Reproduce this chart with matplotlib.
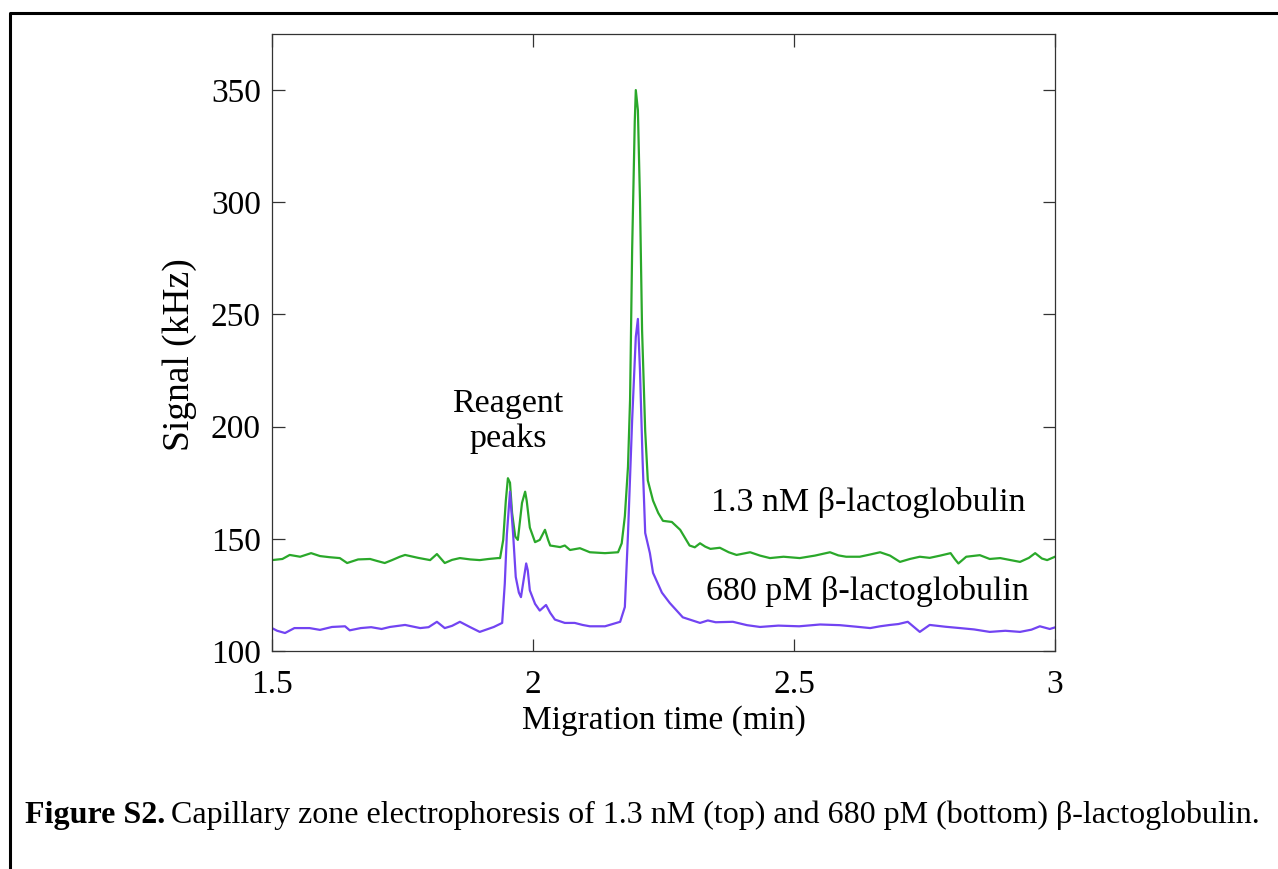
import matplotlib.pyplot as plt
from matplotlib.lines import Line2D

# migration time (min) and signal (kHz)
t_top = [1.500, 1.520, 1.534, 1.554, 1.575, 1.592, 1.610, 1.630, 1.644, 1.665, 1.688,
         1.700, 1.716, 1.730, 1.745, 1.755, 1.780, 1.803, 1.816, 1.831, 1.845, 1.860,
         1.880, 1.898, 1.915, 1.933, 1.937, 1.943, 1.948, 1.952, 1.956, 1.960, 1.966,
         1.971, 1.979, 1.985, 1.988, 1.994, 2.004, 2.013, 2.023, 2.029, 2.033, 2.052,
         2.061, 2.071, 2.090, 2.109, 2.138, 2.163, 2.170, 2.176, 2.182, 2.186, 2.190,
         2.195, 2.197, 2.201, 2.205, 2.209, 2.215, 2.220, 2.230, 2.240, 2.249, 2.266,
         2.282, 2.300, 2.310, 2.320, 2.330, 2.340, 2.358, 2.375, 2.390, 2.416, 2.435,
         2.454, 2.480, 2.511, 2.540, 2.569, 2.585, 2.600, 2.626, 2.646, 2.665, 2.684,
         2.703, 2.722, 2.741, 2.760, 2.780, 2.800, 2.808, 2.815, 2.830, 2.856, 2.875,
         2.895, 2.915, 2.933, 2.950, 2.962, 2.975, 2.985, 3.000]
sig_top = [140.5, 141.0, 142.8, 142.0, 143.6, 142.3, 141.8, 141.4, 139.2, 140.8, 141.0,
           140.2, 139.2, 140.5, 142.0, 142.8, 141.5, 140.5, 143.2, 139.2, 140.6, 141.4,
           140.8, 140.5, 141.0, 141.4, 141.4, 149.5, 167.0, 177.0, 175.0, 161.5, 151.0,
           149.5, 166.0, 171.0, 167.0, 155.0, 148.5, 149.5, 154.0, 149.5, 147.0, 146.3,
           147.0, 145.0, 145.8, 144.0, 143.6, 144.0, 148.0, 160.0, 182.0, 212.0, 279.0,
           336.0, 350.0, 341.0, 301.0, 243.0, 198.0, 176.0, 167.0, 161.5, 158.0, 157.5,
           154.0, 147.0, 146.2, 148.0, 146.5, 145.5, 146.0, 144.0, 142.8, 144.0, 142.5,
           141.4, 142.0, 141.4, 142.5, 144.0, 142.6, 142.0, 142.0, 143.0, 144.0, 142.5,
           139.7, 141.0, 142.0, 141.5, 142.5, 143.6, 141.0, 139.0, 142.0, 142.7, 141.0,
           141.4, 140.5, 139.7, 141.5, 143.6, 141.2, 140.5, 142.0]

t_bot = [1.500, 1.510, 1.525, 1.543, 1.572, 1.592, 1.615, 1.640, 1.649, 1.670, 1.690,
         1.710, 1.726, 1.755, 1.784, 1.800, 1.816, 1.831, 1.845, 1.860, 1.879, 1.898,
         1.925, 1.941, 1.946, 1.950, 1.956, 1.962, 1.967, 1.973, 1.977, 1.983, 1.987,
         1.990, 1.994, 2.004, 2.013, 2.025, 2.033, 2.042, 2.061, 2.080, 2.095, 2.109,
         2.138, 2.167, 2.176, 2.182, 2.190, 2.197, 2.201, 2.205, 2.210, 2.215, 2.224,
         2.230, 2.247, 2.262, 2.287, 2.320, 2.335, 2.350, 2.383, 2.410, 2.435, 2.470,
         2.510, 2.550, 2.588, 2.620, 2.646, 2.665, 2.684, 2.700, 2.718, 2.741, 2.760,
         2.790, 2.818, 2.845, 2.875, 2.905, 2.933, 2.955, 2.971, 2.990, 3.000]
sig_bot = [110.2, 109.0, 108.0, 110.2, 110.2, 109.4, 110.7, 111.0, 109.2, 110.2, 110.6,
           109.8, 110.7, 111.6, 110.2, 110.6, 113.0, 110.2, 111.2, 113.0, 110.7, 108.5,
           110.7, 112.5, 130.0, 152.0, 171.0, 152.0, 133.0, 126.0, 124.0, 133.0, 139.0,
           136.0, 127.0, 121.0, 118.0, 120.5, 117.0, 114.0, 112.5, 112.5, 111.6, 111.0,
           111.0, 113.0, 119.6, 152.0, 203.0, 240.0, 248.0, 225.0, 185.0, 152.6, 143.6,
           134.8, 126.0, 121.4, 115.0, 112.5, 113.6, 112.8, 113.0, 111.5, 110.7, 111.3,
           111.0, 111.8, 111.5, 110.8, 110.2, 111.0, 111.6, 112.0, 113.0, 108.5, 111.6,
           110.8, 110.2, 109.6, 108.5, 109.0, 108.5, 109.5, 111.0, 109.8, 110.5]

x_ticks = [1.5, 2, 2.5, 3]
x_tick_labels = ["1.5", "2", "2.5", "3"]
y_ticks = [100, 150, 200, 250, 300, 350]

plt.rcParams['font.family'] = ['Liberation Serif', 'DejaVu Serif']

fig = plt.figure(figsize=(12.78, 8.69), dpi=100)
ax = fig.add_axes([0.2128, 0.2509, 0.6127, 0.7100])

ax.plot(t_top, sig_top, color='#2aa82a', lw=1.6)
ax.plot(t_bot, sig_bot, color='#7244f2', lw=1.6)

ax.set_xlim(1.5, 3)
ax.set_ylim(100, 375)
ax.set_xticks(x_ticks)
ax.set_xticklabels(x_tick_labels)
ax.set_yticks(y_ticks)
ax.tick_params(direction='in', length=9, width=0.9, top=True, right=True,
               labelsize=24, color='#333333')
ax.tick_params(axis='x', pad=13)
ax.tick_params(axis='y', pad=8)
for s in ax.spines.values():
    s.set_linewidth(0.9)
    s.set_color('#333333')

ax.set_xlabel("Migration time (min)", fontsize=24, labelpad=4)
ax.set_ylabel("Signal (kHz)", fontsize=27)
ax.yaxis.set_label_coords(-0.096, 0.48)

ax.text(1.952, 202.5, "Reagent\npeaks", fontsize=24.5, ha='center', va='center',
        linespacing=1.2)
ax.text(2.642, 166, "1.3 nM \u03b2-lactoglobulin", fontsize=24.5, ha='center', va='center')
ax.text(2.640, 126.7, "680 pM \u03b2-lactoglobulin", fontsize=24.5, ha='center', va='center')

cap_y = 1 - 815 / 869
t1 = fig.text(25 / 1278, cap_y, "Figure S2.", fontsize=23, fontweight='bold',
              ha='left', va='center')
fig.canvas.draw()
bb = t1.get_window_extent()
fig.text((bb.x1 + 6) / fig.bbox.width, cap_y,
         "Capillary zone electrophoresis of 1.3 nM (top) and 680 pM (bottom) \u03b2-lactoglobulin.",
         fontsize=23, ha='left', va='center')

# page frame (top and left edges only are visible)
fx = 10 / 1278
fy = 1 - 13 / 869
fig.add_artist(Line2D([fx, fx, 1.0], [0.0, fy, fy], color='black', lw=2.2,
                      transform=fig.transFigure))

fig.savefig("out.png", dpi=100)
